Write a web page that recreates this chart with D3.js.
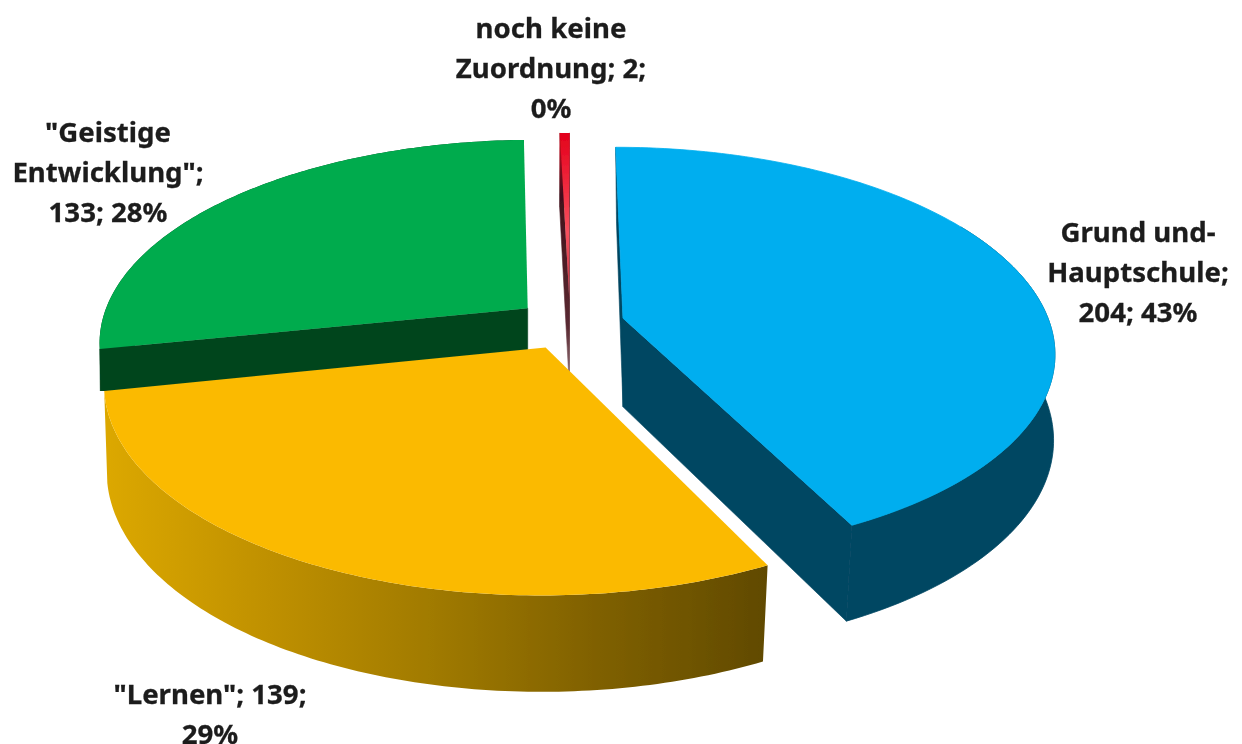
<!DOCTYPE html>
<html><head><meta charset="utf-8">
<style>html,body{margin:0;padding:0;background:#fff;overflow:hidden}svg{display:block}
text{font-family:"Noto Sans",sans-serif;font-weight:700;font-size:27.6px;fill:#1c1c1c;stroke:#1c1c1c;stroke-width:0.3px;text-anchor:middle}</style>
<script src="https://cdn.jsdelivr.net/npm/d3@7/dist/d3.min.js"></script>
</head><body><svg id="c" width="1242" height="744"></svg>
<script>
const categories = ["Grund und-Hauptschule", "\"Lernen\"", "\"Geistige Entwicklung\"", "noch keine Zuordnung"];
const values = [204, 139, 133, 2];
const topColors = ["#00AEEF", "#FBBA00", "#00AB4E", "url(#redTop)"];
const sideColors = ["#004662", "#5f4800", "#03451F", "url(#redSide)"];
const wallColors = ["#004662", "url(#goldWall)", "#03451F", "url(#redSide)"];
const labelLines = [
  ["Grund und-", "Hauptschule;", "204; 43%"],
  ["\"Lernen\"; 139;", "29%"],
  ["\"Geistige", "Entwicklung\";", "133; 28%"],
  ["noch keine", "Zuordnung; 2;", "0%"]
];
const labelAnchors = [[1138, 242], [210, 704], [108, 142], [551, 38]];
const lineStep = 40;

// projection parameters
const vanishX = 570, explode = 0.128;
const planes = {
  top:    {vy: 324, a: 200, p: 0.16},
  bottom: {vy: 413, a: 211, p: 0.14}
};
const xWorld = d3.scaleLinear().domain([-1, 1]).range([-427, 427]);

function project(u, v, plane) {
  const s = 1 / (1 + plane.p * v);
  const yw = d3.scaleLinear().domain([-1, 1]).range([plane.vy + plane.a, plane.vy - plane.a]);
  return [vanishX + xWorld(u) * s, plane.vy + (yw(v) - plane.vy) * s];
}

const svg = d3.select("#c");
const defs = svg.append("defs");
const f = defs.append("filter").attr("id", "soft").attr("x", 0).attr("y", 0).attr("width", 1).attr("height", 1)
  .attr("filterUnits", "objectBoundingBox");
f.append("feGaussianBlur").attr("stdDeviation", 0.7);
defs.append("clipPath").attr("id", "greenClip").append("rect").attr("width", 1242).attr("height", 391);

function grad(id, x1, y1, x2, y2, stops) {
  const g = defs.append("linearGradient").attr("id", id).attr("gradientUnits", "userSpaceOnUse")
    .attr("x1", x1).attr("y1", y1).attr("x2", x2).attr("y2", y2);
  stops.forEach(s => g.append("stop").attr("offset", s[0]).attr("stop-color", s[1]));
}
grad("goldWall", 105, 0, 765, 0, [[0, "#dcA800"], [0.25, "#bf9000"], [0.5, "#a07a00"], [0.75, "#7f6000"], [1, "#614a00"]]);
grad("redTop", 0, 132, 0, 300, [[0, "#e2001a"], [0.25, "#ee2036"], [0.6, "#f8505e"], [1, "#c03040"]]);
grad("redSide", 0, 150, 0, 372, [[0, "#b00a1c"], [0.2, "#40101a"], [0.8, "#5a2a32"], [1, "#8a6a70"]]);

const arcs = d3.pie().sort(null).value(d => d).startAngle(0).endAngle(2 * Math.PI)(values);
const line = d3.line().curve(d3.curveLinear);
const root = svg.append("g").attr("filter", "url(#soft)");
root.append("rect").attr("width", 1242).attr("height", 744).attr("fill", "#fff");

// painter's order: back slices first
[3, 2, 0, 1].forEach(i => {
  const a = arcs[i], mid = (a.startAngle + a.endAngle) / 2;
  const ex = Math.sin(mid) * explode, ey = Math.cos(mid) * explode;
  const rim = t => [Math.sin(t) + ex, Math.cos(t) + ey];
  const angles = d3.range(0, 121).map(k => a.startAngle + (a.endAngle - a.startAngle) * k / 120);
  const P = (c, pl) => project(c[0], c[1], planes[pl]);
  const apex = [ex, ey], rs = rim(a.startAngle), re = rim(a.endAngle);
  const g = root.append("g").attr("class", "slice");
  if (i === 2) g.attr("clip-path", "url(#greenClip)");
  // radial cut faces, only the ones that face the viewer
  [[rs, 1], [re, -1]].forEach(([r, sign]) => {
    const quad = [P(apex, "top"), P(r, "top"), P(r, "bottom"), P(apex, "bottom")];
    if (d3.polygonArea(quad) * sign > 0) {
      g.append("path").attr("fill", sideColors[i]).attr("stroke", sideColors[i]).attr("stroke-width", 0.6)
        .attr("d", line(quad) + "Z");
    }
  });
  // curved wall: only its front part can show below the top face
  const rimPts = angles.map(rim);
  const frontPts = i === 0 ? angles.filter(t => Math.cos(t) < 0.5).map(rim) : rimPts;
  g.append("path").attr("fill", wallColors[i]).attr("stroke", i === 0 ? wallColors[i] : "none").attr("stroke-width", 0.8)
    .attr("d", line(frontPts.map(c => P(c, "top")).concat(frontPts.slice().reverse().map(c => P(c, "bottom")))) + "Z");
  // top face
  g.append("path").attr("fill", topColors[i]).attr("stroke", i === 0 ? topColors[i] : "none").attr("stroke-width", 0.8)
    .attr("d", line([P(apex, "top")].concat(rimPts.map(c => P(c, "top")))) + "Z");
});

labelLines.forEach((lines, i) => {
  const t = root.append("text");
  lines.forEach((l, k) => t.append("tspan").attr("x", labelAnchors[i][0]).attr("y", labelAnchors[i][1] + k * lineStep).text(l));
});
</script></body></html>
